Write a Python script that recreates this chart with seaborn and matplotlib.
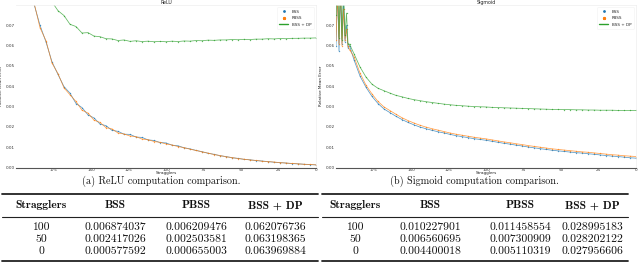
import matplotlib
matplotlib.use("Agg")
import matplotlib.pyplot as plt
import seaborn as sns
import pandas as pd
from matplotlib.lines import Line2D

# ---------------- data ----------------
relu_x = list(range(188, -1, -4))
relu_bss = [0.0805, 0.0700, 0.0618, 0.0520, 0.0458, 0.0398, 0.0366, 0.0315, 0.0295, 0.0259,
            0.0244, 0.0214, 0.0206, 0.0183, 0.0178, 0.0164, 0.0163, 0.0150, 0.0148, 0.0136,
            0.0133, 0.0123, 0.0121, 0.0110, 0.0107, 0.0097, 0.0092, 0.0084, 0.0078, 0.0070,
            0.0065, 0.0058, 0.0054, 0.0048, 0.0045, 0.0040, 0.0038, 0.0034, 0.0032, 0.0029,
            0.0026, 0.0024, 0.0022, 0.0019, 0.0018, 0.0016, 0.0014, 0.0013]
relu_pbss = [0.0812, 0.0688, 0.0624, 0.0514, 0.0462, 0.0392, 0.0358, 0.0325, 0.0282, 0.0268,
             0.0233, 0.0222, 0.0196, 0.0190, 0.0170, 0.0165, 0.0155, 0.0152, 0.0140, 0.0137,
             0.0128, 0.0124, 0.0116, 0.0111, 0.0103, 0.0098, 0.0090, 0.0084, 0.0077, 0.0071,
             0.0064, 0.0059, 0.0053, 0.0049, 0.0044, 0.0041, 0.0037, 0.0035, 0.0031, 0.0029,
             0.0027, 0.0024, 0.0022, 0.0020, 0.0018, 0.0016, 0.0015, 0.0013]
relu_dp_x = list(range(176, -1, -4))
relu_dp = [0.0815, 0.0772, 0.0748, 0.0705, 0.0694, 0.0662, 0.0664, 0.0647, 0.0644, 0.0634,
           0.0633, 0.0625, 0.0628, 0.0621, 0.0624, 0.0620, 0.0622, 0.0619, 0.0621, 0.0619,
           0.0622, 0.0620, 0.0623, 0.0622, 0.0625, 0.0624, 0.0627, 0.0626, 0.0628, 0.0628,
           0.0630, 0.0629, 0.0631, 0.0630, 0.0632, 0.0632, 0.0634, 0.0633, 0.0635, 0.0634,
           0.0636, 0.0636, 0.0637, 0.0637, 0.0638]

sig_x = list(range(200, 190, -1)) + list(range(188, -1, -4))
sig_bss = [0.0600, 0.0880, 0.0574, 0.0850, 0.0610, 0.0820, 0.0620, 0.0700, 0.0590, 0.0600,
           0.0530, 0.0450, 0.0395, 0.0350, 0.0315, 0.0288, 0.0270, 0.0252, 0.0236, 0.0222,
           0.0210, 0.0199, 0.0191, 0.0183, 0.0176, 0.0170, 0.0163, 0.0157, 0.0152, 0.0147,
           0.0142, 0.0138, 0.0134, 0.0129, 0.0124, 0.0119, 0.0115, 0.0110, 0.0106, 0.0101,
           0.0097, 0.0093, 0.0089, 0.0085, 0.0082, 0.0079, 0.0076, 0.0073, 0.0071, 0.0068,
           0.0065, 0.0062, 0.0059, 0.0056, 0.0054, 0.0051, 0.0048, 0.0046]
sig_pbss = [0.0630, 0.0850, 0.0610, 0.0900, 0.0600, 0.0780, 0.0630, 0.0680, 0.0600, 0.0580,
            0.0545, 0.0465, 0.0405, 0.0362, 0.0325, 0.0298, 0.0280, 0.0262, 0.0245, 0.0231,
            0.0219, 0.0208, 0.0199, 0.0191, 0.0184, 0.0177, 0.0170, 0.0164, 0.0159, 0.0154,
            0.0149, 0.0145, 0.0141, 0.0136, 0.0131, 0.0126, 0.0122, 0.0117, 0.0113, 0.0108,
            0.0104, 0.0100, 0.0096, 0.0092, 0.0089, 0.0086, 0.0083, 0.0080, 0.0077, 0.0075,
            0.0072, 0.0069, 0.0066, 0.0063, 0.0061, 0.0058, 0.0056, 0.0054]
sig_dp = [0.0750, 0.0950, 0.0640, 0.0920, 0.0630, 0.0880, 0.0650, 0.0760, 0.0610, 0.0607,
          0.0560, 0.0495, 0.0445, 0.0410, 0.0390, 0.0378, 0.0366, 0.0355, 0.0348, 0.0340,
          0.0334, 0.0329, 0.0324, 0.0320, 0.0316, 0.0312, 0.0309, 0.0306, 0.0304, 0.0302,
          0.0300, 0.0299, 0.0298, 0.0296, 0.0295, 0.0294, 0.0293, 0.0292, 0.0291, 0.0290,
          0.0289, 0.0288, 0.0287, 0.0286, 0.0286, 0.0285, 0.0285, 0.0284, 0.0284, 0.0283,
          0.0283, 0.0282, 0.0282, 0.0282, 0.0281, 0.0281, 0.0281, 0.0281]

x_ticks = [175, 150, 125, 100, 75, 50, 25, 0]
y_ticks = [0.00, 0.01, 0.02, 0.03, 0.04, 0.05, 0.06, 0.07]
series_names = ["BSS", "PBSS", "BSS + DP"]
titles = ["ReLU", "Sigmoid"]
captions = ["(a) ReLU computation comparison.", "(b) Sigmoid computation comparison."]

table_header = ["Stragglers", "BSS", "PBSS", "BSS + DP"]
table_rows_relu = [["100", "0.006874037", "0.006209476", "0.062076736"],
                   ["50", "0.002417026", "0.002503581", "0.063198365"],
                   ["0", "0.000577592", "0.000655003", "0.063969884"]]
table_rows_sig = [["100", "0.010227901", "0.011458554", "0.028995183"],
                  ["50", "0.006560695", "0.007300909", "0.028202122"],
                  ["0", "0.004400018", "0.005110319", "0.027956606"]]

# ---------------- figure ----------------
sns.set_theme(style="white")
W, H = 640, 268
fig = plt.figure(figsize=(W / 100, H / 100), dpi=100)
pal = sns.color_palette("tab10")
colors = [pal[0], pal[1], pal[2]]


def fx(px):
    return px / W


def fy(py):
    return 1 - py / H


panels = [
    (16, relu_x, relu_bss, relu_pbss, relu_dp_x, relu_dp),
    (336, sig_x, sig_bss, sig_pbss, sig_x, sig_dp),
]

for i, (left, xs, bss, pbss, dpx, dp) in enumerate(panels):
    ax = fig.add_axes([fx(left), fy(167.5), 300 / W, (167.5 - 5) / H])
    for xx, yy, c in [(xs, bss, colors[0]), (xs, pbss, colors[1]), (dpx, dp, colors[2])]:
        sns.lineplot(x=xx, y=yy, ax=ax, color=c, lw=0.55, marker=".", ms=2.0,
                     markeredgewidth=0, alpha=0.75)
    ax.set_xlim(200, 0)
    ax.set_ylim(0, 0.08)
    ax.set_xticks(x_ticks)
    ax.set_yticks(y_ticks)
    ax.set_xticklabels([str(t) for t in x_ticks])
    ax.set_yticklabels([f"{t:.2f}" for t in y_ticks])
    ax.tick_params(axis="both", labelsize=3.0, length=0, pad=1.0, colors="#333333")
    ax.tick_params(axis="x", pad=0.3)
    ax.set_title(titles[i], fontsize=3.4, pad=1.0, color="#222222")
    ax.set_xlabel("Stragglers", fontsize=3.0, color="#222222", va="top")
    ax.xaxis.set_label_coords(0.5, -0.022)
    ax.set_ylabel("Relative Mean Error", fontsize=3.0, color="#222222")
    ax.yaxis.set_label_coords(-0.043, 0.5)
    ax.spines["left"].set_visible(False)
    for s in ["top", "right"]:
        ax.spines[s].set_color("#eeeeee")
        ax.spines[s].set_linewidth(0.5)
    ax.spines["bottom"].set_color("#555555")
    ax.spines["bottom"].set_linewidth(0.8)
    handles = [
        Line2D([], [], color=colors[0], marker=".", ls="none", ms=2),
        Line2D([], [], color=colors[1], marker="*", ls="none", ms=2),
        Line2D([], [], color=colors[2], lw=1.0),
    ]
    leg = ax.legend(handles, series_names, loc="upper right", fontsize=3.0,
                    frameon=True, handlelength=2.2, borderpad=0.6, labelspacing=0.6)
    leg.get_frame().set_edgecolor("#eeeeee")
    leg.get_frame().set_linewidth(0.4)

# ---------------- captions & tables ----------------
table_specs = [
    (161, [41, 115, 196, 275], 2, 318, table_rows_relu, captions[0]),
    (474, [355, 430, 520, 592], 322, 628, table_rows_sig, captions[1]),
]
for cap_x, cols, x0, x1, rows, cap in table_specs:
    fig.text(fx(cap_x), fy(181.2), cap, ha="center", va="center",
             fontsize=7.3, family="cmr10", color="#111111")
    for yy, lw in [(194, 1.3), (216.8, 0.8), (260.5, 1.3)]:
        fig.add_artist(Line2D([fx(x0), fx(x1)], [fy(yy), fy(yy)],
                              transform=fig.transFigure, color="#222222", lw=lw))
    for c, h in zip(cols, table_header):
        fig.text(fx(c), fy(205.5), h, ha="center", va="center",
                 fontsize=8.4, family="cmb10", color="#111111")
    for r, row in enumerate(rows):
        for c, v in zip(cols, row):
            fig.text(fx(c), fy(227.5 + r * 11.7), v, ha="center", va="center",
                     fontsize=8.4, family="cmr10", color="#111111")

fig.savefig("out.png", dpi=100)
